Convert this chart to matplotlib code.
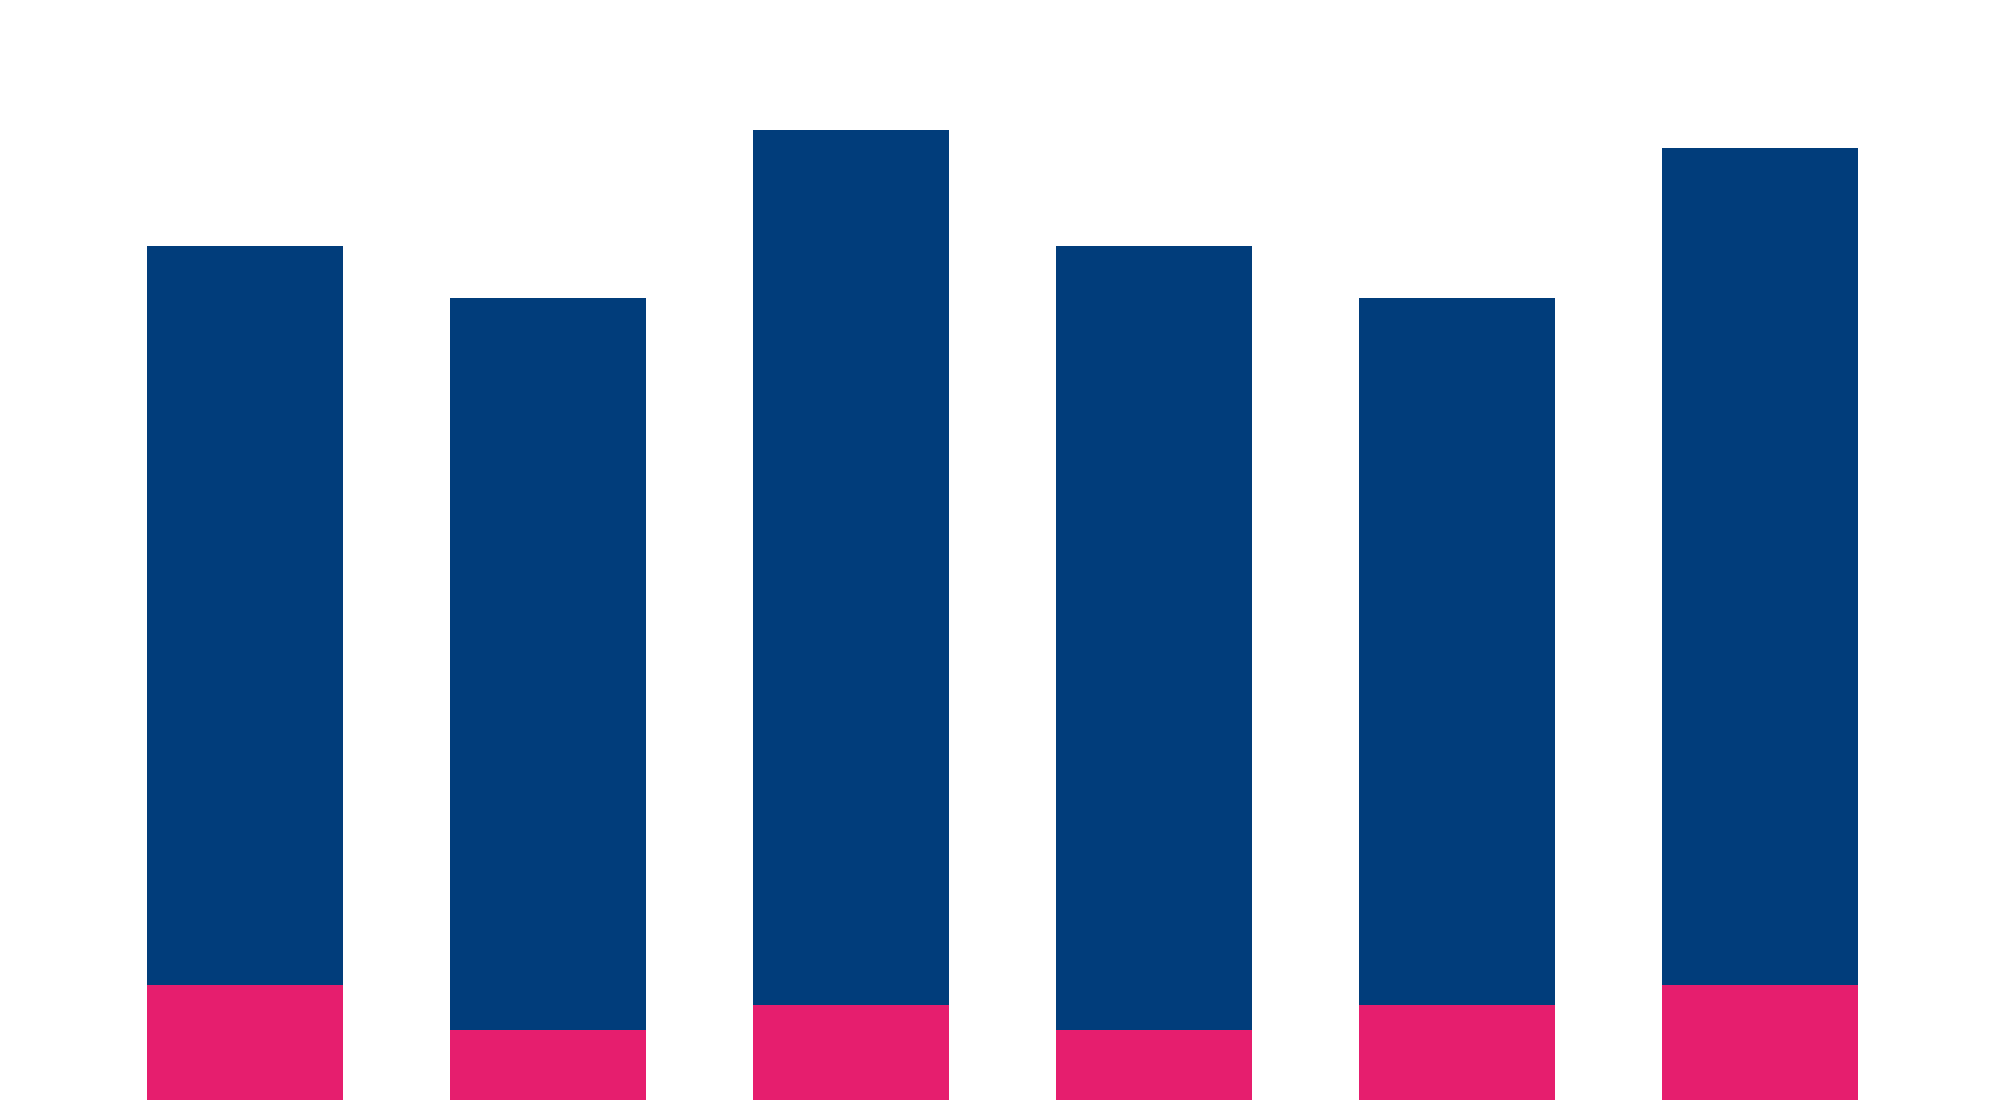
import matplotlib
matplotlib.use("Agg")
import matplotlib.pyplot as plt
import numpy as np

# Data (arbitrary units)
categories = ["A", "B", "C", "D", "E", "F"]
totals = [85.4, 80.2, 97.0, 85.4, 80.2, 95.2]
subset = [11.5, 7.0, 9.5, 7.0, 9.5, 11.5]

blue = "#013D7B"
pink = "#E61E6E"

fig = plt.figure(figsize=(20, 11), dpi=100)
ax = fig.add_axes([0, 0, 1, 1])
x = np.arange(len(categories))
width = 0.647
ax.bar(x, totals, width=width, color=blue, linewidth=0)
ax.bar(x, subset, width=width, color=pink, linewidth=0)
ax.set_xlim(-0.808, 5.792)
ax.set_ylim(0, 110)
ax.axis("off")
fig.savefig("out.png", dpi=100, facecolor="white")
